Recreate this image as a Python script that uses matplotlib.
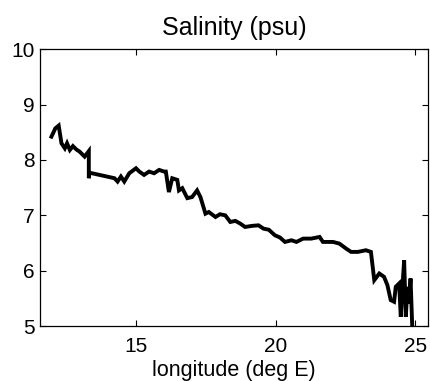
import matplotlib
matplotlib.use("Agg")
import matplotlib.pyplot as plt

# traced along-track salinity vs longitude
lon = [11.96, 12.10, 12.22, 12.32, 12.44, 12.52, 12.62, 12.73, 12.85, 12.97,
       13.15, 13.30, 13.30, 13.32, 14.22, 14.33, 14.45, 14.57, 14.75, 14.99,
       15.11, 15.28, 15.46, 15.64, 15.82, 16.00, 16.06, 16.17, 16.29, 16.47,
       16.53, 16.65, 16.83, 17.00, 17.18, 17.30, 17.48, 17.60, 17.84, 18.00,
       18.19, 18.37, 18.55, 18.73, 18.90, 19.15, 19.38, 19.56, 19.75, 19.97,
       20.15, 20.33, 20.56, 20.74, 20.98, 21.27, 21.57, 21.69, 22.05, 22.28,
       22.52, 22.70, 22.94, 23.23, 23.41, 23.53, 23.71, 23.88, 24.00, 24.12,
       24.24, 24.30, 24.42, 24.48, 24.54, 24.60, 24.66, 24.72, 24.77, 24.83,
       24.89]
sal = [8.42, 8.57, 8.62, 8.30, 8.21, 8.30, 8.18, 8.25, 8.19, 8.15,
       8.06, 8.16, 7.67, 7.77, 7.67, 7.61, 7.70, 7.61, 7.76, 7.85,
       7.79, 7.73, 7.79, 7.76, 7.82, 7.79, 7.79, 7.42, 7.67, 7.64,
       7.45, 7.49, 7.31, 7.33, 7.45, 7.33, 7.03, 7.06, 6.97, 7.02,
       7.00, 6.88, 6.90, 6.85, 6.79, 6.81, 6.82, 6.76, 6.74, 6.64,
       6.60, 6.52, 6.55, 6.52, 6.58, 6.58, 6.61, 6.52, 6.52, 6.49,
       6.40, 6.34, 6.34, 6.37, 6.34, 5.83, 5.95, 5.89, 5.74, 5.47,
       5.44, 5.71, 5.77, 5.17, 5.71, 6.19, 5.17, 5.71, 5.41, 5.86,
       5.00]

plt.rcParams["font.family"] = ["Liberation Sans", "DejaVu Sans"]

fig = plt.figure(figsize=(4.30, 3.81), dpi=100)
ax = fig.add_axes([0.093, 0.144, 0.902, 0.727])
ax.plot(lon, sal, color="black", lw=2.8, solid_joinstyle="miter")
ax.set_xlim(11.55, 25.45)
ax.set_ylim(5, 10)
ax.set_xticks([15, 20, 25])
ax.set_yticks([5, 6, 7, 8, 9, 10])
ax.tick_params(direction="in", top=True, right=True, labelsize=15,
               length=4, width=0.8)
ax.tick_params(axis="x", pad=8)
ax.tick_params(axis="y", pad=4)
for sp in ax.spines.values():
    sp.set_linewidth(0.9)
ax.set_title("Salinity (psu)", fontsize=18, pad=10)
ax.set_xlabel("longitude (deg E)", fontsize=15.5, labelpad=3)
fig.savefig("out.png", facecolor="white")
